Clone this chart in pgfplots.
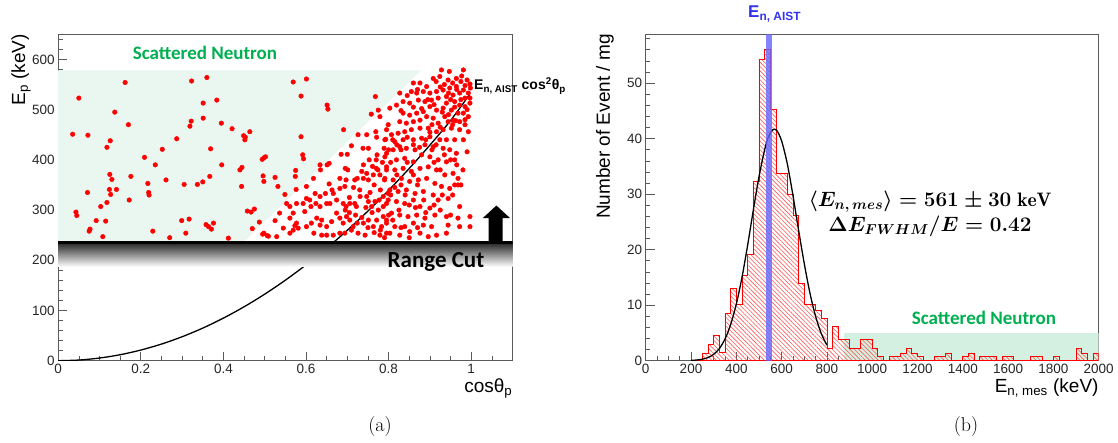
\documentclass[border=0pt]{standalone}
\usepackage{pgfplots}
\pgfplotsset{compat=1.18}
\usepackage{fontspec}
\usetikzlibrary{patterns.meta}
\newfontfamily\arial{Liberation Sans}
\newfontfamily\carlito{Carlito}
\definecolor{mintL}{RGB}{234,247,240}
\definecolor{mintR}{RGB}{212,240,224}
\definecolor{sngreen}{RGB}{0,176,80}
\definecolor{bandblue}{RGB}{100,100,250}
\definecolor{hatchred}{RGB}{255,90,90}
\definecolor{framegray}{RGB}{90,90,90}
\definecolor{aistblue}{RGB}{50,50,240}
\tikzset{hatch/.style={pattern={Lines[angle=-45,distance=3.1pt,line width=0.6pt]}, pattern color=hatchred}}
\pgfplotsset{rootstyle/.style={
  scale only axis,
  axis line style={framegray, line width=0.8pt},
  tick align=inside, xtick pos=left, ytick pos=left,
  major tick length=9pt, minor tick length=4.5pt,
  tick style={framegray, line width=0.7pt},
  ticklabel style={font=\arial\fontsize{13.5}{13.5}\selectfont, text=black!85},
  /pgf/number format/assume math mode=true,
  /pgf/number format/1000 sep={},
}}
\begin{document}
\begin{tikzpicture}[x=1pt,y=1pt]
\path[use as bounding box] (0,0) rectangle (1118,442);
% ---------------- left panel ----------------
\begin{axis}[rootstyle, at={(58.2pt,81.3pt)}, anchor=south west,
  width=454.3pt, height=326.4pt,
  xmin=0, xmax=1.1, ymin=0, ymax=650,
  xtick={0,0.2,0.4,0.6,0.8,1},
  minor xtick={0.05,0.1,0.15,0.25,0.3,0.35,0.45,0.5,0.55,0.65,0.7,0.75,0.85,0.9,0.95,1.05},
  ytick={0,100,200,300,400,500,600},
  minor ytick={20,40,60,80,120,140,160,180,220,240,260,280,320,340,360,380,420,440,460,480,520,540,560,580,620,640},
]
\fill[mintL] (axis cs:0,238) -- (axis cs:0,578) -- (axis cs:0.879,578) -- (axis cs:0.451,238) -- cycle;
\addplot[black, line width=1.3pt, smooth] coordinates {
(0,0)(0.05,1.3)(0.1,5.3)(0.15,11.9)(0.2,21.2)(0.25,33.1)(0.3,47.7)(0.35,64.9)(0.4,84.8)(0.45,107.3)(0.5,132.5)(0.55,160.3)(0.6,190.8)(0.65,223.9)(0.7,259.7)(0.75,298.1)(0.8,339.2)(0.85,382.9)(0.9,429.3)(0.95,478.3)(0.996,530)};
\shade[top color=black!85, bottom color=white] (axis cs:0,187) rectangle (axis cs:1.1,235);
\draw[black, line width=3pt] (axis cs:0,236) -- (axis cs:1.1,236);
\addplot[only marks, mark=*, mark size=2.3pt, red, mark options={draw=red, fill=red}] coordinates {
(0.035,451)(0.050,523)(0.043,296)(0.045,289)(0.072,449)(0.071,335)(0.077,262)(0.075,258)(0.092,279)(0.103,307)
(0.108,247)(0.115,278)(0.118,315)(0.118,425)(0.126,438)(0.125,371)(0.130,361)(0.127,331)(0.124,341)(0.141,341)
(0.137,495)(0.162,554)(0.170,470)(0.172,320)(0.176,367)(0.209,405)(0.217,353)(0.219,335)(0.220,330)(0.229,258)
(0.235,390)(0.252,421)(0.261,360)(0.270,245)(0.287,442)(0.299,279)(0.305,351)(0.309,254)(0.317,282)(0.319,467)
(0.322,477)(0.323,557)(0.337,351)(0.350,356)(0.351,483)(0.351,513)(0.360,564)(0.358,271)(0.364,267)(0.369,422)
(0.367,367)(0.371,262)(0.376,274)(0.384,519)(0.395,473)(0.396,390)(0.412,244)(0.421,462)(0.440,380)(0.444,347)
(0.445,385)(0.449,448)(0.452,440)(0.453,445)(0.458,298)(0.464,456)(0.467,296)(0.470,263)(0.475,302)(0.487,276)
(0.494,401)(0.498,404)(0.502,406)(0.496,368)(0.498,357)(0.525,365)(0.532,347)(0.549,331)(0.525,279)(0.536,294)
(0.495,252)(0.506,249)(0.569,555)(0.575,379)(0.574,367)(0.576,341)
(0.601,561)(0.588,527)(0.651,509)(0.653,501)(0.588,446)(0.691,460)(0.768,526)(0.775,499)(0.758,491)(0.592,410)
(0.594,402)(0.601,347)(0.634,390)(0.635,380)(0.651,390)(0.656,393)(0.618,363)(0.685,411)(0.700,411)(0.695,383)
(0.701,380)(0.710,428)(0.726,450)(0.747,450)(0.738,423)(0.751,423)(0.753,400)(0.769,456)(0.771,445)(0.779,486)
(0.795,460)(0.793,441)(0.789,423)(0.772,410)(0.791,406)(0.770,383)(0.761,387)(0.774,380)(0.739,390)(0.735,377)
(0.724,363)(0.718,360)(0.739,363)(0.747,373)(0.751,360)(0.763,370)(0.779,370)(0.795,380)(0.682,363)(0.697,360)
(0.656,352)(0.666,333)(0.682,343)(0.694,347)(0.647,333)(0.663,340)(0.622,333)(0.634,327)(0.609,320)(0.601,323)
(0.593,313)(0.612,307)(0.624,313)(0.634,307)(0.650,313)(0.658,313)(0.674,320)(0.690,313)(0.697,307)(0.706,313)
(0.718,313)(0.722,307)(0.731,327)(0.747,327)(0.751,317)(0.759,307)(0.767,317)(0.777,320)(0.787,327)(0.799,333)
(0.795,313)(0.787,307)(0.597,297)(0.601,267)(0.613,274)(0.626,284)(0.634,270)(0.638,280)(0.650,267)(0.662,277)
(0.674,294)(0.682,284)(0.690,274)(0.698,287)(0.706,280)(0.714,267)(0.724,274)(0.726,254)(0.739,274)(0.743,250)
(0.751,280)(0.763,267)(0.771,280)(0.783,267)(0.779,250)(0.795,254)(0.787,287)(0.795,280)(0.619,254)(0.638,250)
(0.650,250)(0.666,250)(0.682,254)(0.694,254)(0.710,260)(0.577,313)(0.553,313)(0.561,307)(0.569,294)(0.561,284)
(0.577,274)(0.569,260)(0.573,269)(0.581,264)(0.545,264)(0.529,247)(0.509,248)(0.498,254)(0.561,254)
(0.928,579)(0.947,576)(0.981,579)(0.908,562)(0.924,566)(0.944,559)(0.964,562)(0.977,567)(0.990,559)(0.997,551)
(0.876,553)(0.892,546)(0.860,553)(0.827,533)(0.855,536)(0.868,533)(0.884,536)(0.900,533)(0.916,536)(0.932,539)
(0.948,543)(0.964,546)(0.981,539)(0.993,533)(0.998,543)(0.904,519)(0.920,523)(0.940,526)(0.956,529)(0.972,533)
(0.985,523)(0.997,523)(0.888,516)(0.872,519)(0.851,513)(0.835,516)(0.819,509)(0.803,503)(0.940,513)(0.960,516)
(0.972,509)(0.985,506)(0.997,513)(0.952,499)(0.968,493)(0.981,493)(0.993,486)(0.932,503)(0.916,499)(0.900,506)
(0.884,496)(0.868,493)(0.851,489)(0.835,493)(0.799,470)(0.827,476)(0.843,473)(0.860,476)(0.876,479)(0.892,486)
(0.908,483)(0.920,473)(0.936,486)(0.944,476)(0.956,479)(0.972,476)(0.985,470)(0.993,456)(0.972,460)(0.952,463)
(0.932,460)(0.916,456)(0.896,463)(0.876,463)(0.855,460)(0.839,456)(0.823,453)(0.807,450)(0.791,440)(0.815,436)
(0.835,440)(0.860,440)(0.880,443)(0.900,446)(0.924,440)(0.940,440)(0.960,440)(0.981,440)(0.888,430)(0.908,426)
(0.932,423)(0.948,420)(0.964,413)(0.990,416)(0.795,413)(0.811,420)(0.827,426)(0.843,423)(0.864,420)(0.880,410)
(0.900,406)(0.920,400)(0.940,396)(0.960,400)(0.819,400)(0.839,403)(0.860,396)(0.795,386)(0.815,380)(0.835,383)
(0.855,377)(0.876,383)(0.896,386)(0.916,380)(0.936,370)(0.956,373)(0.968,363)(0.791,363)(0.811,360)(0.831,363)
(0.851,357)(0.872,360)(0.892,363)(0.912,353)(0.928,347)(0.948,343)(0.968,350)(0.803,340)(0.823,337)(0.843,340)
(0.864,333)(0.884,337)(0.908,330)(0.920,320)(0.944,323)(0.972,307)(0.799,320)(0.819,317)(0.839,313)(0.860,320)
(0.876,307)(0.900,304)(0.807,294)(0.827,290)(0.847,287)(0.868,290)(0.888,284)(0.912,290)(0.940,287)(0.968,284)
(0.795,274)(0.815,267)(0.839,267)(0.860,274)(0.884,270)(0.904,267)(0.944,270)(0.972,267)(0.803,254)(0.827,250)
(0.851,257)(0.876,254)(0.896,247)(0.916,250)(0.940,254)(0.997,287)(0.997,267)(0.975,350)
(0.935,550)(0.955,553)(0.965,540)(0.975,556)(0.985,548)(0.945,533)(0.925,545)(0.915,556)(0.960,505)(0.950,520)
(0.975,520)(0.990,500)(0.930,495)(0.945,490)(0.962,478)(0.985,480)(0.910,510)(0.895,520)(0.870,540)(0.845,528)
(0.860,505)(0.830,498)(0.880,502)(0.905,470)(0.925,465)(0.955,470)(0.900,455)(0.745,305)(0.760,295)(0.775,300)
(0.805,330)(0.815,345)(0.830,350)(0.820,370)(0.805,395)(0.845,395)(0.860,370)(0.870,350)(0.885,320)(0.865,305)
(0.840,330)(0.850,310)(0.825,300)(0.810,280)(0.830,265)(0.850,245)(0.870,265)(0.890,295)(0.910,310)(0.930,330)
(0.925,300)(0.950,290)(0.960,350)(0.955,330)(0.780,340)(0.790,360)(0.765,350)(0.755,335)(0.730,340)(0.715,345)
(0.705,325)(0.695,300)(0.705,295)(0.720,290)(0.735,285)(0.750,265)(0.765,255)(0.780,260)(0.790,245)(0.800,290)
(0.770,400)(0.785,395)(0.800,420)(0.810,440)(0.820,430)(0.830,420)(0.845,445)(0.860,430)(0.875,425)(0.890,440)
(0.905,420)(0.915,430)(0.935,410)(0.950,400)(0.965,390)(0.980,380)(0.925,380)(0.910,395)
};
\fill[black] (axis cs:1.042,237) -- (axis cs:1.042,284) -- (axis cs:1.028,284) -- (axis cs:1.061,309) -- (axis cs:1.094,284) -- (axis cs:1.076,284) -- (axis cs:1.076,237) -- cycle;
\end{axis}
% ---------------- right panel ----------------
\begin{axis}[rootstyle, at={(645.7pt,81.3pt)}, anchor=south west,
  width=453pt, height=326.4pt,
  xmin=0, xmax=2000, ymin=0, ymax=58.8,
  xtick={0,200,...,2000}, minor xtick={0,50,...,2000},
  ytick={0,10,...,50}, minor ytick={0,2,...,58},
]
\fill[mintR] (axis cs:875,0) rectangle (axis cs:2000,5.05);
\addplot[const plot, draw=red, line width=0.8pt, hatch] coordinates {
(200,0)(225,0)(250,1.4)(275,3.0)(300,4.5)(325,1.5)(350,8.5)(375,13.0)(400,10.2)(425,15.3)
(450,19.2)(475,32.3)(500,54.3)(525,56.0)(550,45.2)(575,33.8)(600,33.8)(625,30.0)(650,26.1)(675,13.9)
(700,10.2)(725,10.2)(750,9.1)(775,7.6)(800,2.2)(825,6.1)(850,3.9)(875,3.9)(900,2.2)(925,2.2)
(950,3.9)(975,3.9)(1000,2.2)(1025,0.8)(1050,0)(1075,0.8)(1100,0.8)(1125,1.4)(1150,2.2)(1175,1.4)
(1200,0.8)(1225,0)(1250,0)(1275,0.8)(1300,0.8)(1325,1.4)(1350,0)(1375,0)(1400,0.8)(1425,1.4)
(1450,0)(1475,0.8)(1500,0.8)(1525,0.8)(1550,0)(1575,0.8)(1600,0.8)(1625,0)(1650,0)(1675,0)
(1700,0.8)(1725,0.8)(1750,0)(1775,0)(1800,0.8)(1825,0)(1850,0)(1875,0)(1900,2.2)(1925,1.4)
(1950,0)(1975,1.4)(2000,1.4)} \closedcycle;
\addplot[black, line width=1.3pt, smooth] coordinates {
(200,0.05)(225,0.12)(250,0.27)(275,0.57)(300,1.15)(325,2.18)(350,3.9)(375,6.5)(400,10.2)(425,15.0)
(450,20.8)(475,27.1)(500,33.1)(525,38.0)(540,40.1)(555,41.35)(568,41.7)(580,41.4)(600,39.6)(625,35.5)
(650,29.8)(675,23.5)(700,17.5)(725,12.2)(750,8.0)(775,4.9)(800,2.8)};
\fill[bandblue, opacity=0.8] (axis cs:530,0) rectangle (axis cs:557,58.8);
\end{axis}
% ---------------- texts ----------------
\node[text=sngreen, font=\carlito\bfseries\fontsize{19}{19}\selectfont] at (205,389) {Scattered Neutron};
\node[font=\carlito\bfseries\fontsize{23}{23}\selectfont] at (436,180) {Range Cut};
\node[text=sngreen, font=\carlito\bfseries\fontsize{19}{19}\selectfont] at (984,124) {Scattered Neutron};
\node[font=\fontsize{19.5}{19.5}\selectfont] at (930,240) {{\boldmath$\langle E_{n,\,mes}\rangle = 561 \pm 30~\mathrm{keV}$}};
\node[font=\fontsize{19.5}{19.5}\selectfont] at (930,216) {{\boldmath$\Delta E_{FWHM}/E = 0.42$}};
\node[font=\arial\fontsize{19}{19}\selectfont, rotate=90, anchor=east, inner sep=0pt] at (21,408) {E\textsubscript{p} (keV)};
\node[font=\arial\fontsize{19}{19}\selectfont, anchor=north east, inner sep=0pt] at (512.5,63) {cosθ\textsubscript{p}};
\node[font=\arial\bfseries\fontsize{14}{14}\selectfont, anchor=base west, inner sep=0pt] at (474,352) {E\textsubscript{n, AIST} cos\textsuperscript{2}θ\textsubscript{p}};
\node[font=\arial\fontsize{19}{19}\selectfont, rotate=90, anchor=east, inner sep=0pt] at (605,408) {Number of Event / mg};
\node[font=\arial\fontsize{19}{19}\selectfont, anchor=north east, inner sep=0pt] at (1098.7,63) {E\textsubscript{n, mes} (keV)};
\node[font=\arial\bfseries\fontsize{17}{17}\selectfont, text=aistblue, anchor=base west, inner sep=0pt] at (748,424) {E\textsubscript{n, AIST}};
\node[font=\fontsize{20}{20}\selectfont] at (380,15) {(a)};
\node[font=\fontsize{20}{20}\selectfont] at (966,15) {(b)};
\end{tikzpicture}
\end{document}
